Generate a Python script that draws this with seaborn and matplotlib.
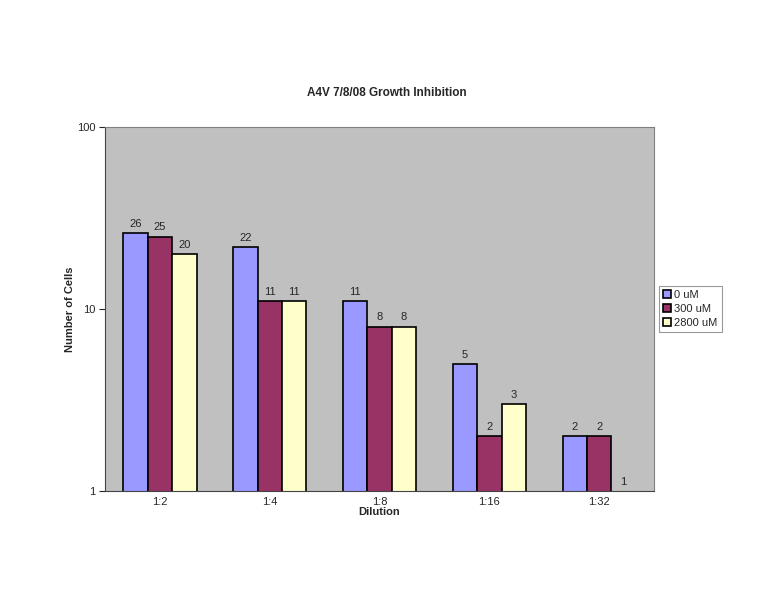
import pandas as pd
import numpy as np
from matplotlib import pyplot as plt
import seaborn as sns

dilutions = ["1:2", "1:4", "1:8", "1:16", "1:32"]
treatments = ["0 uM", "300 uM", "2800 uM"]
cells_0uM = [26, 22, 11, 5, 2]
cells_300uM = [25, 11, 8, 2, 2]
cells_2800uM = [20, 11, 8, 3, 1]
bar_colors = ["#9999FF", "#993366", "#FFFFCC"]

df = pd.DataFrame({
    "Dilution": dilutions * 3,
    "Treatment": np.repeat(treatments, len(dilutions)),
    "Cells": cells_0uM + cells_300uM + cells_2800uM,
})

sns.set_style("white")
plt.rcParams['font.family'] = ['Liberation Sans', 'DejaVu Sans']

fig = plt.figure(figsize=(7.76, 6), dpi=100)
left, right, top, bottom = 105, 654, 127, 491
ax = fig.add_axes([left / 776, 1 - bottom / 600, (right - left) / 776, (bottom - top) / 600])
ax.set_yscale("log")

sns.barplot(data=df, x="Dilution", y="Cells", hue="Treatment",
            palette=bar_colors, saturation=1, width=2 / 3, gap=0,
            edgecolor="black", linewidth=1.2, ax=ax, legend=True)

for cont, vals in zip(ax.containers, [cells_0uM, cells_300uM, cells_2800uM]):
    ax.bar_label(cont, labels=[str(v) for v in vals], fontsize=8, padding=3)
    for bar, v in zip(cont, vals):
        if v <= 1:
            bar.set_linewidth(0)

ax.set_ylim(1, 100)
ax.set_xlim(-0.5, len(dilutions) - 0.5)
ax.set_yticks([1, 10, 100])
ax.set_yticklabels(["1", "10", "100"])
ax.yaxis.set_minor_locator(plt.NullLocator())
ax.tick_params(axis="y", which="major", direction="out", length=4, width=0.8,
               labelsize=8, left=True, pad=3)
ax.tick_params(axis="x", length=0, labelsize=8, pad=4)
ax.set_facecolor("#C0C0C0")
for side in ["top", "right"]:
    ax.spines[side].set_color("#808080")
for side in ["left", "bottom"]:
    ax.spines[side].set_color("#444444")

ax.set_xlabel("Dilution", fontsize=8, fontweight="bold", labelpad=0)
ax.set_ylabel("Number of Cells", fontsize=8, fontweight="bold")
ax.yaxis.set_label_coords((75 - left) / (right - left), 0.5)

fig.text(386.5 / 776, 1 - 93 / 600, "A4V 7/8/08 Growth Inhibition", ha="center",
         va="center", fontsize=8.5, fontweight="bold")

leg = ax.legend(title=None, loc="center left", bbox_to_anchor=(1.01, 0.5),
                fontsize=8, frameon=True, fancybox=False, handlelength=0.7,
                handleheight=0.7, handletextpad=0.3, borderpad=0.35,
                labelspacing=0.35, borderaxespad=0)
leg.get_frame().set_edgecolor("#808080")
leg.get_frame().set_linewidth(0.8)

fig.savefig("out.png", dpi=100, facecolor="white")
